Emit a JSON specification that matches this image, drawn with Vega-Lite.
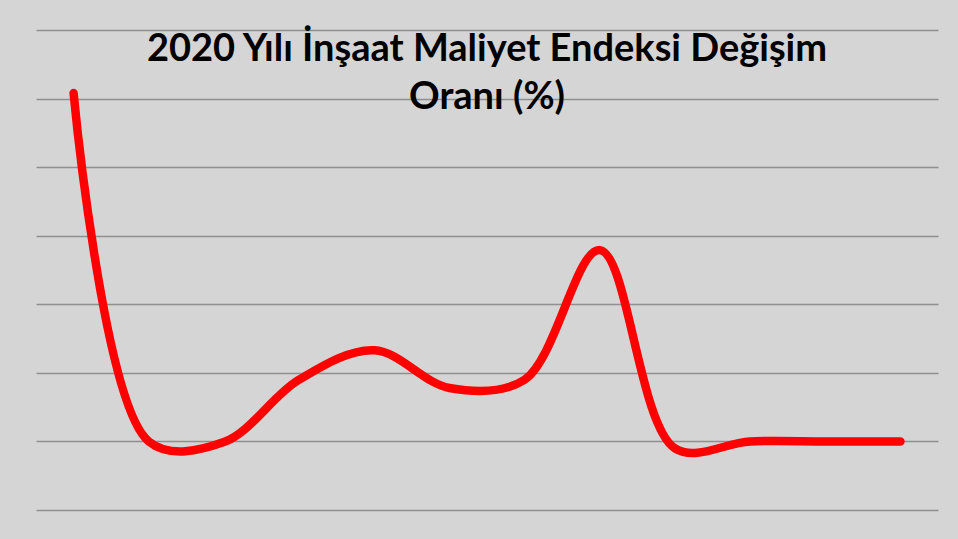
{
  "$schema": "https://vega.github.io/schema/vega-lite/v6.json",
  "width": 902,
  "height": 480,
  "autosize": {"type": "none"},
  "padding": {"left": 36, "top": 30, "right": 20, "bottom": 29},
  "background": "#d5d5d5",
  "title": {
    "text": ["2020 Yılı İnşaat Maliyet Endeksi Değişim", "Oranı (%)"],
    "font": "Lato",
    "fontSize": 38,
    "fontWeight": "bold",
    "color": "#000000",
    "anchor": "middle",
    "frame": "group",
    "lineHeight": 48,
    "offset": -87
  },
  "data": {
    "values": [
      {"ay": "Ocak", "deger": 6.08},
      {"ay": "Şubat", "deger": 1.0},
      {"ay": "Mart", "deger": 0.99},
      {"ay": "Nisan", "deger": 1.9},
      {"ay": "Mayıs", "deger": 2.33},
      {"ay": "Haziran", "deger": 1.78},
      {"ay": "Temmuz", "deger": 1.9},
      {"ay": "Ağustos", "deger": 3.79},
      {"ay": "Eylül", "deger": 0.9},
      {"ay": "Ekim", "deger": 1.0},
      {"ay": "Kasım", "deger": 1.0},
      {"ay": "Aralık", "deger": 1.0}
    ]
  },
  "mark": {"type": "line", "color": "#ff0000", "strokeWidth": 8.5, "strokeCap": "round", "strokeJoin": "round", "interpolate": "catmull-rom"},
  "encoding": {
    "x": {"field": "ay", "type": "ordinal", "sort": null, "scale": {"type": "point", "padding": 0.5}, "axis": null},
    "y": {
      "field": "deger", "type": "quantitative",
      "scale": {"domain": [0, 7], "nice": false, "zero": true},
      "axis": {"values": [0, 1, 2, 3, 4, 5, 6, 7], "grid": true, "gridColor": "#8f8f8f", "gridWidth": 1.5, "gridOpacity": 1, "domain": false, "ticks": false, "labels": false, "title": null}
    }
  },
  "config": {"view": {"stroke": null}}
}
